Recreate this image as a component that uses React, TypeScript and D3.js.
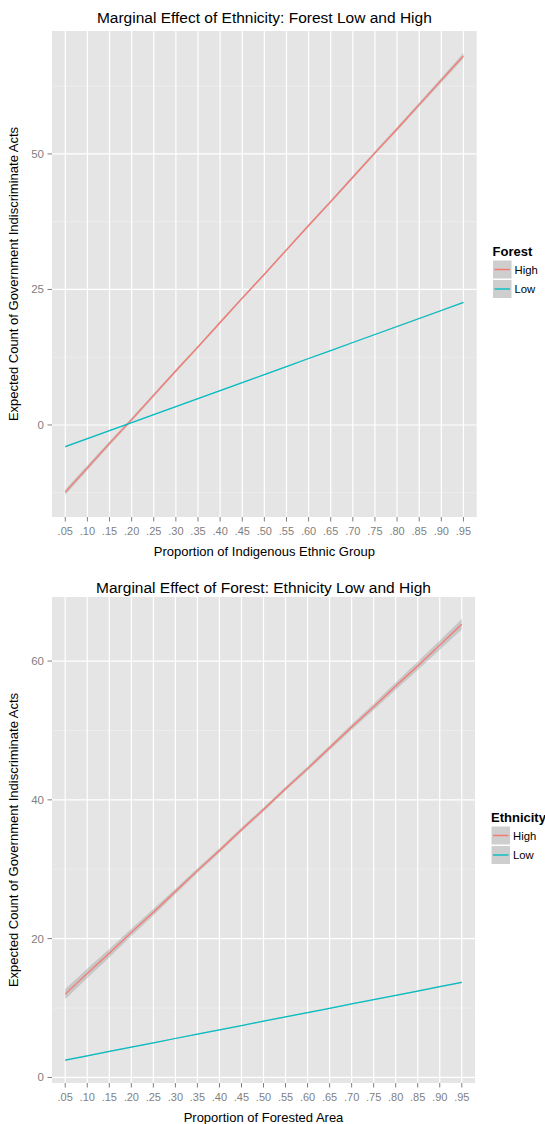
import React from "react";
import * as d3 from "d3";

const categories = [".05", ".10", ".15", ".20", ".25", ".30", ".35", ".40", ".45", ".50", ".55", ".60", ".65", ".70", ".75", ".80", ".85", ".90", ".95"];

// Panel 1: Marginal effect of ethnicity (by forest level)
const ethHigh = [-12.4, -7.9, -3.4, 1.0, 5.5, 10.0, 14.4, 18.9, 23.4, 27.8, 32.3, 36.8, 41.2, 45.7, 50.2, 54.6, 59.1, 63.6, 68.1];
const ethHighSe = [0.5, 0.45, 0.4, 0.35, 0.32, 0.3, 0.28, 0.26, 0.25, 0.25, 0.25, 0.26, 0.28, 0.3, 0.32, 0.35, 0.4, 0.45, 0.5];
const ethLow = [-4.0, -2.52, -1.04, 0.43, 1.91, 3.39, 4.87, 6.34, 7.82, 9.3, 10.78, 12.26, 13.73, 15.21, 16.69, 18.17, 19.64, 21.12, 22.6];
const ethLowSe = [0.15, 0.14, 0.13, 0.12, 0.11, 0.1, 0.1, 0.1, 0.1, 0.1, 0.1, 0.1, 0.1, 0.1, 0.11, 0.12, 0.13, 0.14, 0.15];
const ethYTicks = [0, 25, 50];
const ethYMinor = [-12.5, 12.5, 37.5, 62.5];

// Panel 2: Marginal effect of forest (by ethnicity level)
const forHigh = [12.0, 15.0, 17.9, 20.9, 23.8, 26.8, 29.8, 32.7, 35.7, 38.6, 41.6, 44.5, 47.5, 50.5, 53.4, 56.4, 59.3, 62.3, 65.3];
const forHighSe = [0.75, 0.68, 0.6, 0.53, 0.46, 0.4, 0.35, 0.32, 0.3, 0.3, 0.3, 0.32, 0.35, 0.4, 0.46, 0.53, 0.6, 0.68, 0.75];
const forLow = [2.5, 3.12, 3.74, 4.37, 4.99, 5.61, 6.23, 6.85, 7.48, 8.1, 8.72, 9.34, 9.96, 10.59, 11.21, 11.83, 12.45, 13.08, 13.7];
const forLowSe = [0.12, 0.11, 0.1, 0.1, 0.09, 0.09, 0.09, 0.09, 0.09, 0.09, 0.09, 0.09, 0.09, 0.09, 0.09, 0.1, 0.1, 0.11, 0.12];
const forYTicks = [0, 20, 40, 60];
const forYMinor = [10, 30, 50];

const levels = ["High", "Low"];
const colors = ["#F8766D", "#00BFC4"];

const FONT = "'Liberation Sans', Arial, Helvetica, sans-serif";

type PanelProps = {
  title: string;
  titleY: number;
  xTitle: string;
  legendTitle: string;
  top: number;
  bottom: number;
  left: number;
  right: number;
  yTicks: number[];
  yMinor: number[];
  series: { values: number[]; se: number[] }[];
  legendX: number;
  legendY: number;
};

function Panel(p: PanelProps) {
  const x = d3.scalePoint<string>().domain(categories).range([p.left, p.right]).padding(0.6);
  const all: number[] = [];
  p.series.forEach((s) => s.values.forEach((v, i) => { all.push(v - s.se[i]); all.push(v + s.se[i]); }));
  const [mn, mx] = d3.extent(all) as [number, number];
  const pad = (mx - mn) * 0.05;
  const y = d3.scaleLinear().domain([mn - pad, mx + pad]).range([p.bottom, p.top]);

  const line = d3.line<number>().x((_, i) => x(categories[i]) as number).y((v) => y(v));
  const cx = (p.left + p.right) / 2;
  const cy = (p.top + p.bottom) / 2;

  return (
    <g>
      <text x={cx} y={p.titleY} textAnchor="middle" dominantBaseline="central" fontSize={15.5} fill="#000" fontFamily={FONT}>{p.title}</text>
      <rect x={p.left} y={p.top} width={p.right - p.left} height={p.bottom - p.top} fill="#e5e5e5" />
      {p.yMinor.map((v) => (
        <line key={"m" + v} x1={p.left} x2={p.right} y1={y(v)} y2={y(v)} stroke="#f2f2f2" strokeWidth={0.6} />
      ))}
      {p.yTicks.map((v) => (
        <line key={"g" + v} x1={p.left} x2={p.right} y1={y(v)} y2={y(v)} stroke="#fff" strokeWidth={1.2} />
      ))}
      {categories.map((c) => (
        <line key={"v" + c} x1={x(c)} x2={x(c)} y1={p.top} y2={p.bottom} stroke="#fff" strokeWidth={1.2} />
      ))}
      {p.series.map((s, k) => {
        const area = d3.area<number>()
          .x((_, i) => x(categories[i]) as number)
          .y0((v, i) => y(v - s.se[i]))
          .y1((v, i) => y(v + s.se[i]));
        return <path key={"r" + k} d={area(s.values) || ""} fill="#999999" fillOpacity={0.4} />;
      })}
      {p.series.map((s, k) => (
        <path key={"l" + k} d={line(s.values) || ""} fill="none" stroke={colors[k]} strokeWidth={1.25} />
      ))}
      {/* y axis */}
      {p.yTicks.map((v) => (
        <g key={"yt" + v}>
          <line x1={p.left - 4.5} x2={p.left} y1={y(v)} y2={y(v)} stroke="#7f7f7f" strokeWidth={1} />
          <text x={p.left - 8} y={y(v)} textAnchor="end" dominantBaseline="central" fontSize={11.5} fill="#7f7f7f" fontFamily={FONT}>{v}</text>
        </g>
      ))}
      {/* x axis */}
      {categories.map((c) => (
        <g key={"xt" + c}>
          <line x1={x(c)} x2={x(c)} y1={p.bottom} y2={p.bottom + 4.5} stroke="#7f7f7f" strokeWidth={1} />
          <text x={x(c)} y={p.bottom + 13.5} textAnchor="middle" dominantBaseline="central" fontSize={11} fill="#7f7f7f" fontFamily={FONT}>{c}</text>
        </g>
      ))}
      <text x={cx} y={p.bottom + 34.5} textAnchor="middle" dominantBaseline="central" fontSize={13} fill="#000" fontFamily={FONT}>{p.xTitle}</text>
      <text transform={`translate(13.5,${cy}) rotate(-90)`} textAnchor="middle" dominantBaseline="central" fontSize={13} fill="#000" fontFamily={FONT}>Expected Count of Government Indiscriminate Acts</text>
      {/* legend */}
      <text x={p.legendX} y={p.legendY} dominantBaseline="central" fontSize={13} fontWeight="bold" fill="#000" fontFamily={FONT}>{p.legendTitle}</text>
      {levels.map((lv, k) => {
        const ky = p.legendY + 9 + k * 19.5;
        return (
          <g key={"lg" + lv}>
            <rect x={p.legendX} y={ky} width={19.5} height={19} fill="#cecece" stroke="#fff" strokeWidth={1} />
            <line x1={p.legendX + 2} x2={p.legendX + 17.5} y1={ky + 9.5} y2={ky + 9.5} stroke={colors[k]} strokeWidth={1.4} />
            <text x={p.legendX + 22} y={ky + 9.5} dominantBaseline="central" fontSize={11.3} fill="#000" fontFamily={FONT}>{lv}</text>
          </g>
        );
      })}
    </g>
  );
}

export default function App() {
  return (
    <svg width={545} height={1124} style={{ position: "absolute", left: 0, top: 0, background: "#fff" }}>
      <Panel
        title="Marginal Effect of Ethnicity: Forest Low and High"
        titleY={17}
        xTitle="Proportion of Indigenous Ethnic Group"
        legendTitle="Forest"
        top={31}
        bottom={517}
        left={52}
        right={476.7}
        yTicks={ethYTicks}
        yMinor={ethYMinor}
        series={[{ values: ethHigh, se: ethHighSe }, { values: ethLow, se: ethLowSe }]}
        legendX={492.5}
        legendY={251}
      />
      <Panel
        title="Marginal Effect of Forest: Ethnicity Low and High"
        titleY={587}
        xTitle="Proportion of Forested Area"
        legendTitle="Ethnicity"
        top={597}
        bottom={1083}
        left={52}
        right={475}
        yTicks={forYTicks}
        yMinor={forYMinor}
        series={[{ values: forHigh, se: forHighSe }, { values: forLow, se: forLowSe }]}
        legendX={491}
        legendY={817}
      />
    </svg>
  );
}
